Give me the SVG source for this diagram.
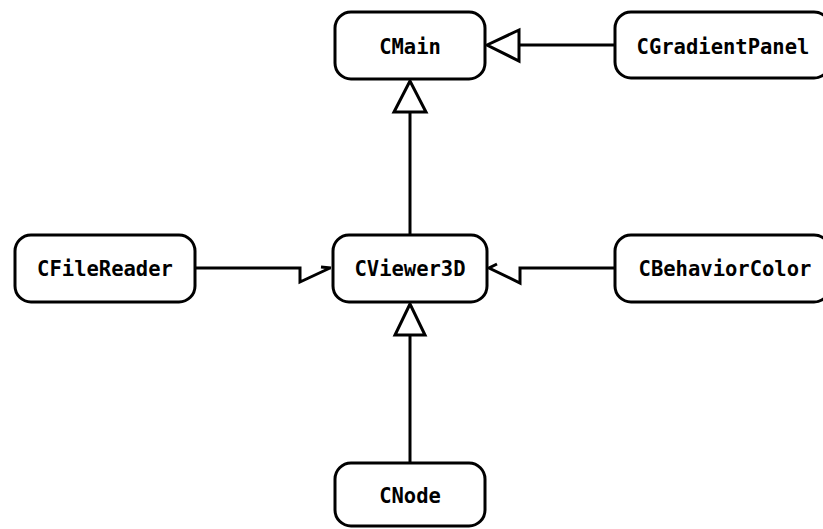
<svg xmlns="http://www.w3.org/2000/svg" width="823" height="529" viewBox="0 0 823 529">
  <style>
    .box { fill: #ffffff; stroke: #000000; stroke-width: 3; }
    .label { font-family: "DejaVu Sans Mono", "Liberation Mono", monospace; font-weight: bold; font-size: 20.5px; fill: #000000; text-anchor: middle; }
    .edge { fill: none; stroke: #000000; stroke-width: 3; stroke-linejoin: miter; }
    .tri { fill: #ffffff; stroke: #000000; stroke-width: 3; stroke-linejoin: miter; }
  </style>
  <rect width="823" height="529" fill="#ffffff"/>

  <g id="connectors">
    <!-- CGradientPanel generalizes CMain -->
    <path class="edge" d="M615,45 H519"/>
    <polygon class="tri" points="487,45 519,30 519,61"/>
    <!-- CViewer3D generalizes CMain -->
    <path class="edge" d="M410,235 V112"/>
    <polygon class="tri" points="410,81 394,112 426,112"/>
    <!-- CNode generalizes CViewer3D -->
    <path class="edge" d="M410,463 V335"/>
    <polygon class="tri" points="410,304 395,335 425,335"/>
    <!-- CFileReader to CViewer3D (half arrow) -->
    <path class="edge" d="M195,268 H300 V282 L330,268 M321,267 L331,268"/>
    <!-- CBehaviorColor to CViewer3D (half arrow) -->
    <path class="edge" d="M615,268 H520 V283 L489,268 L497,264"/>
  </g>

  <g id="CMain">
    <rect class="box" x="335" y="12" width="150" height="67" rx="16"/>
    <text class="label" x="410" y="54">CMain</text>
  </g>
  <g id="CGradientPanel">
    <rect class="box" x="615" y="12" width="215" height="66" rx="16"/>
    <text class="label" x="723" y="54">CGradientPanel</text>
  </g>
  <g id="CFileReader">
    <rect class="box" x="15" y="235" width="180" height="67" rx="16"/>
    <text class="label" x="105" y="276">CFileReader</text>
  </g>
  <g id="CViewer3D">
    <rect class="box" x="333" y="235" width="154" height="67" rx="16"/>
    <text class="label" x="410" y="276">CViewer3D</text>
  </g>
  <g id="CBehaviorColor">
    <rect class="box" x="615" y="235" width="215" height="67" rx="16"/>
    <text class="label" x="725" y="276">CBehaviorColor</text>
  </g>
  <g id="CNode">
    <rect class="box" x="335" y="463" width="150" height="63" rx="16"/>
    <text class="label" x="410" y="503">CNode</text>
  </g>
</svg>
